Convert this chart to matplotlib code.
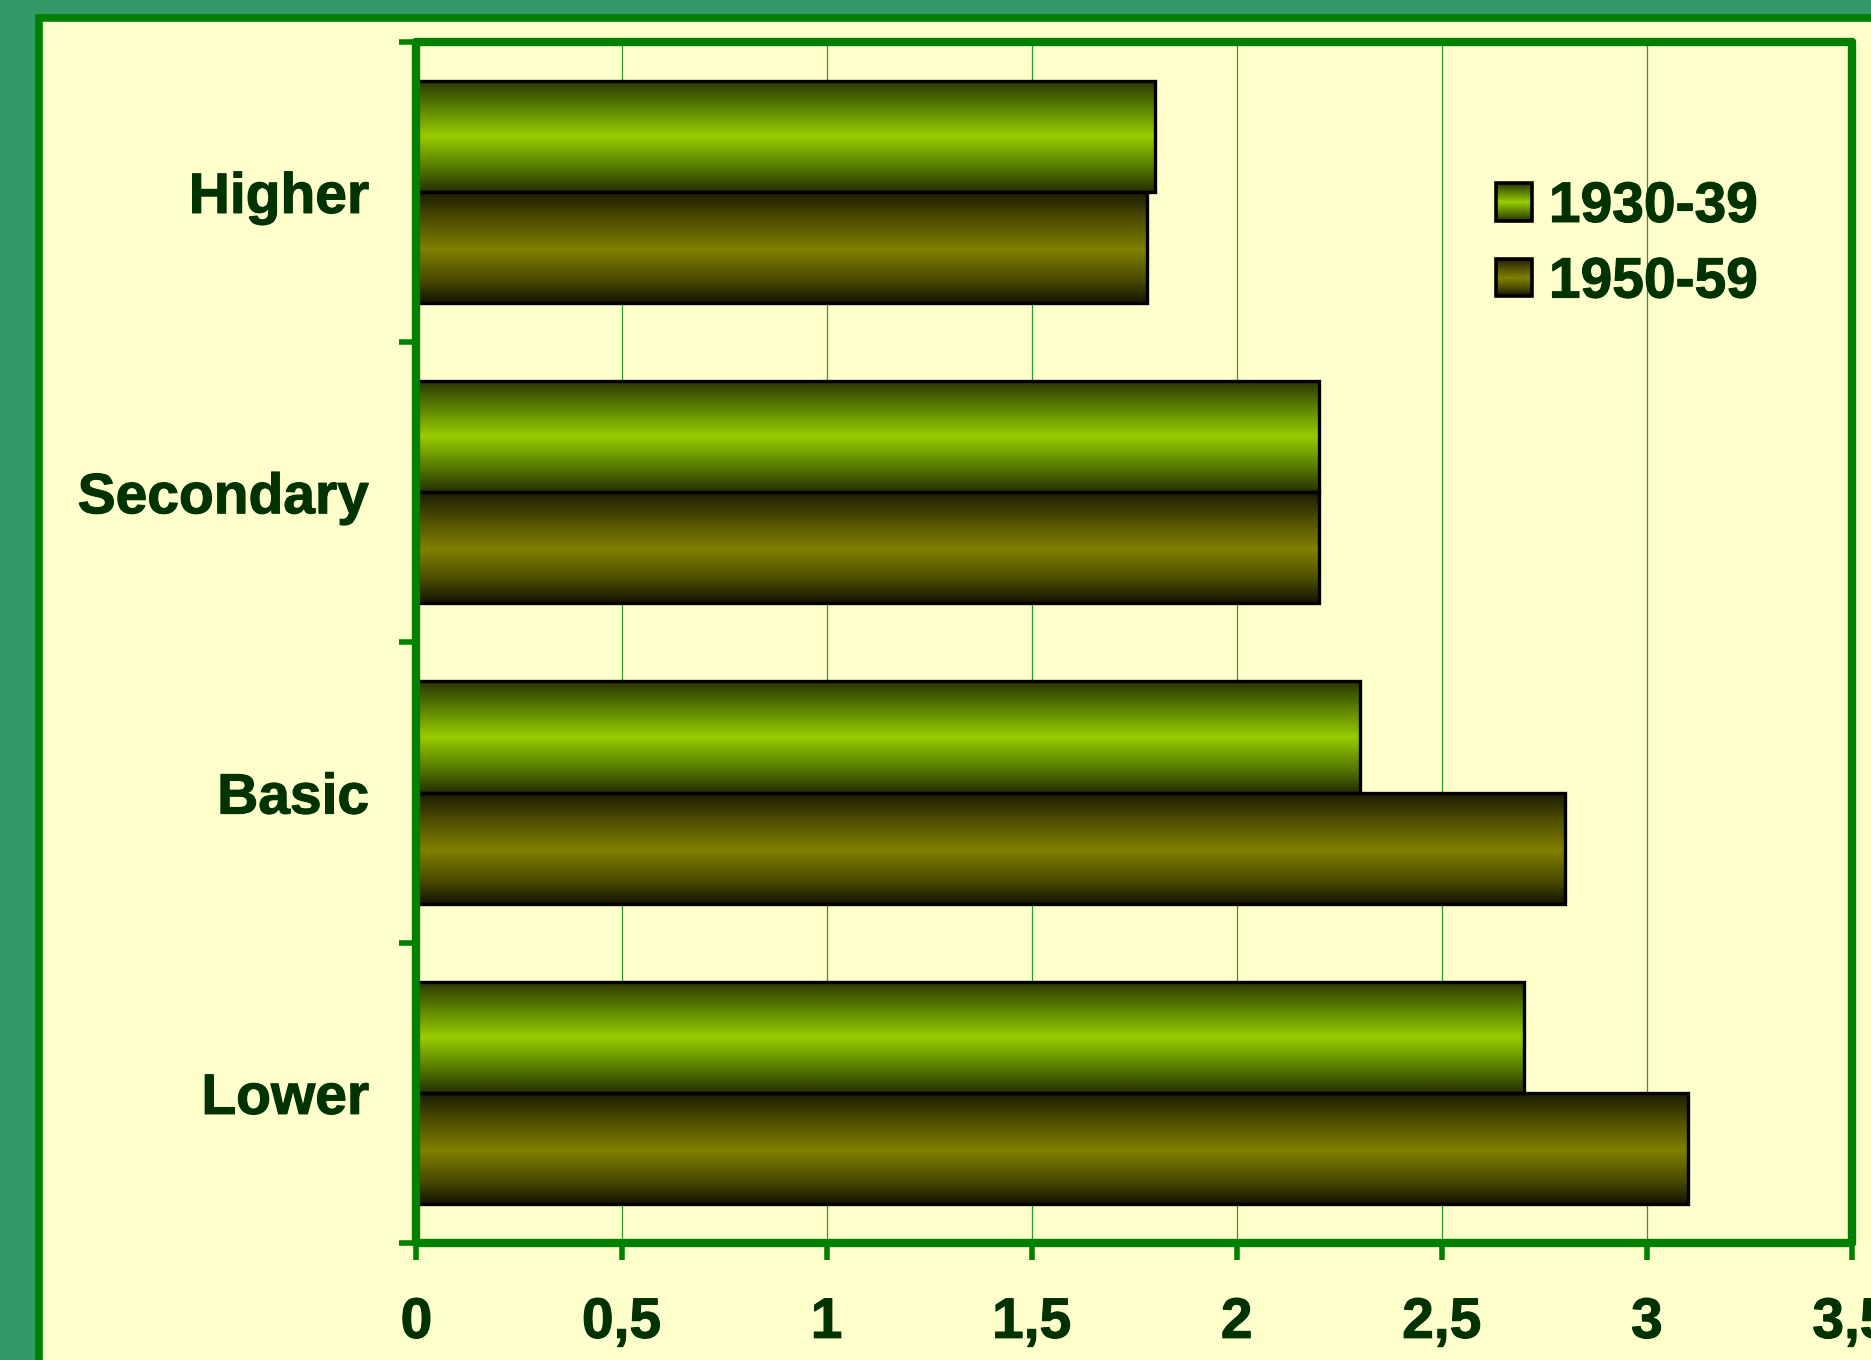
import numpy as np
import matplotlib
matplotlib.use("Agg")
import matplotlib.pyplot as plt
import matplotlib.patheffects as pe
from matplotlib.colors import LinearSegmentedColormap
from matplotlib.patches import Rectangle
from matplotlib.legend_handler import HandlerBase
from matplotlib.image import BboxImage
from matplotlib.transforms import Bbox, TransformedBbox

# categories listed bottom to top
categories = ["Lower", "Basic", "Secondary", "Higher"]
series_names = ["1930-39", "1950-59"]
v_1930 = [2.7, 2.3, 2.2, 1.8]
v_1950 = [3.1, 2.8, 2.2, 1.78]
x_ticks = [0, 0.5, 1, 1.5, 2, 2.5, 3, 3.5]
x_labels = ["0", "0,5", "1", "1,5", "2", "2,5", "3", "3,5"]

plt.rcParams['font.family'] = ['Liberation Sans', 'DejaVu Sans']

outer_bg = "#339966"
panel_bg = "#FFFFCC"
frame_green = "#008000"
text_col = "#003300"
fsize = 41
bold_fx = [pe.withStroke(linewidth=0.8, foreground=text_col)]

green_cmap = LinearSegmentedColormap.from_list(
    "green_tube", [(0, "#2a3300"), (0.22, "#557a00"), (0.5, "#99cc00"), (0.78, "#557a00"), (1, "#263000")])
olive_cmap = LinearSegmentedColormap.from_list(
    "olive_tube", [(0, "#1a1a00"), (0.25, "#4d4d00"), (0.52, "#808000"), (0.78, "#4d4d00"), (1, "#141400")])
grad = np.linspace(0, 1, 256).reshape(-1, 1)


class GradientHandler(HandlerBase):
    def __init__(self, cmap):
        super().__init__()
        self.cmap = cmap

    def create_artists(self, legend, orig_handle, xdescent, ydescent,
                       width, height, fontsize, trans):
        bb = Bbox.from_bounds(-xdescent, -ydescent, width, height)
        img = BboxImage(TransformedBbox(bb, trans), cmap=self.cmap, interpolation="bicubic")
        img.set_data(grad)
        rect = Rectangle((-xdescent, -ydescent), width, height, fc="none",
                         ec="black", lw=2.6, transform=trans)
        return [img, rect]


fig = plt.figure(figsize=(18.71, 13.6), dpi=100)
fig.patch.set_facecolor(outer_bg)

# light panel with a green frame behind the chart
panel = Rectangle((0.021, -0.2), 1.2, 0.9868 + 0.2, transform=fig.transFigure,
                  facecolor=panel_bg, edgecolor=frame_green, lw=5.5, zorder=-10)
fig.patches.append(panel)

ax = fig.add_axes([0.2226, 0.0860, 0.9898 - 0.2226, 0.9693 - 0.0860])
ax.set_facecolor(panel_bg)

y = np.arange(len(categories))
h = 0.37
bars_a = ax.barh(y + h / 2, v_1930, height=h, facecolor="none", edgecolor="black", lw=2.4, zorder=2.2)
bars_b = ax.barh(y - h / 2, v_1950, height=h, facecolor="none", edgecolor="black", lw=2.4, zorder=2.2)

# tube-like shading inside each bar
for bars, cmap in [(bars_a, green_cmap), (bars_b, olive_cmap)]:
    for p in bars:
        x0, y0 = p.get_x(), p.get_y()
        ax.imshow(grad, extent=[x0, x0 + p.get_width(), y0, y0 + p.get_height()],
                  aspect="auto", cmap=cmap, interpolation="bicubic", zorder=1.5)

ax.set_xlim(0, 3.5)
ax.set_ylim(-0.5, len(categories) - 0.5)

ax.set_xticks(x_ticks)
ax.set_xticklabels(x_labels)
ax.set_yticks(y)
ax.set_yticklabels(categories)
ax.set_yticks(np.arange(len(categories) + 1) - 0.5, minor=True)

for s in ax.spines.values():
    s.set_color(frame_green)
    s.set_linewidth(6)
    s.set_capstyle("round")
    s.set_zorder(3)

ax.tick_params(axis="x", length=12, width=4, color=frame_green, pad=26,
               labelsize=fsize, labelcolor=text_col)
ax.tick_params(axis="y", which="major", length=0, pad=34, labelsize=fsize, labelcolor=text_col)
ax.tick_params(axis="y", which="minor", length=12, width=4, color=frame_green)
for lab in ax.get_xticklabels() + ax.get_yticklabels():
    lab.set_fontweight("bold")
    lab.set_path_effects(bold_fx)

ax.grid(axis="x", color="#2e9a2e", lw=0.9)
ax.set_axisbelow(True)

h1 = Rectangle((0, 0), 1, 1)
h2 = Rectangle((0, 0), 1, 1)
leg = ax.legend([h1, h2], series_names, loc="upper left", bbox_to_anchor=(0.752, 0.885),
                frameon=False, borderpad=0, borderaxespad=0, handlelength=0.63, handleheight=0.63,
                handletextpad=0.3, labelspacing=0.38,
                handler_map={h1: GradientHandler(green_cmap), h2: GradientHandler(olive_cmap)},
                prop={"size": fsize, "weight": "bold"})
for t in leg.get_texts():
    t.set_color(text_col)
    t.set_path_effects(bold_fx)

fig.savefig("out.png", dpi=100, facecolor=fig.get_facecolor())
